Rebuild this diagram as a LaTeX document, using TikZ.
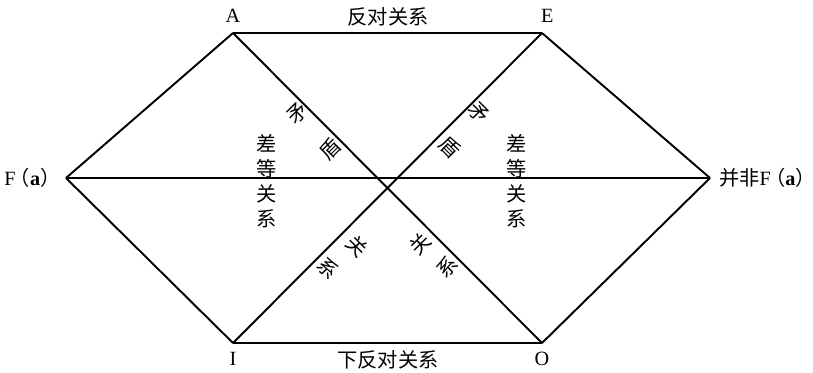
\documentclass[tikz,border=0pt]{standalone}
\usepackage{fontspec}
\setmainfont{Liberation Serif}
\newfontfamily\cjk{Noto Sans CJK SC}
\usetikzlibrary{positioning,calc}
\tikzset{
  edge/.style={draw=black,line width=1.1pt},
  vlab/.style={font=\fontsize{11.5}{14}\selectfont,inner sep=1pt},
  rel/.style={font=\cjk\fontsize{11.5}{14.3}\selectfont,inner sep=0pt,align=center},
}
\tikzset{ch/.style={font=\cjk\fontsize{11.5}{12}\selectfont,inner sep=0pt}}
\newcommand{\lp}{\hspace{-0.28em}{\cjk（}}
\newcommand{\rp}{{\cjk）}\hspace{-0.45em}}

\begin{document}
\begin{tikzpicture}[x=0.02cm,y=-0.02cm]
\useasboundingbox (0,0) rectangle (813,372);
\coordinate (A) at (233,33);
\coordinate (E) at (542,33);
\coordinate (F) at (66,178);
\coordinate (nF) at (710,178);
\coordinate (I) at (233,343);
\coordinate (O) at (542,343);
\draw[edge] (A)--(E);
\draw[edge] (I)--(O);
\draw[edge] (F)--(A);
\draw[edge] (F)--(I);
\draw[edge] (E)--(nF);
\draw[edge] (O)--(nF);
\draw[edge] (F)--(nF);
\draw[edge] (A)--(O);
\draw[edge] (E)--(I);
% vertex labels
\node[vlab,above=5pt of A] (la) {A};
\node[vlab,above=5pt of E,xshift=3pt] (le) {E};
\node[vlab,below=4pt of I] (li) {I};
\node[vlab,below=4pt of O] (lo) {O};
\node[vlab,left=2pt of F] (lf) {F\lp\textbf{a}\rp};
\node[vlab,right=4pt of nF] (lnf) {{\cjk 并非}F\lp\textbf{a}\rp};
% relations
\node[rel] (fan) at (388,17) {反对关系};
\node[rel] (xfan) at (388,360) {下反对关系};
\node[rel] (cdl) at (267,181) {差\\等\\关\\系};
\node[rel] (cdr) at (517,181) {差\\等\\关\\系};
\node[ch,rotate=45] (m1) at (298,113) {矛};
\node[ch,rotate=45] (d1) at (330,149) {盾};
\node[ch,rotate=-45] (m2) at (479,113) {矛};
\node[ch,rotate=-45] (d2) at (450,147) {盾};
\node[ch,rotate=-45] (g1) at (357,246) {关};
\node[ch,rotate=-45] (x1) at (328,268) {系};
\node[ch,rotate=45] (g2) at (420,244) {关};
\node[ch,rotate=45] (x2) at (447,267) {系};
\end{tikzpicture}
\end{document}
